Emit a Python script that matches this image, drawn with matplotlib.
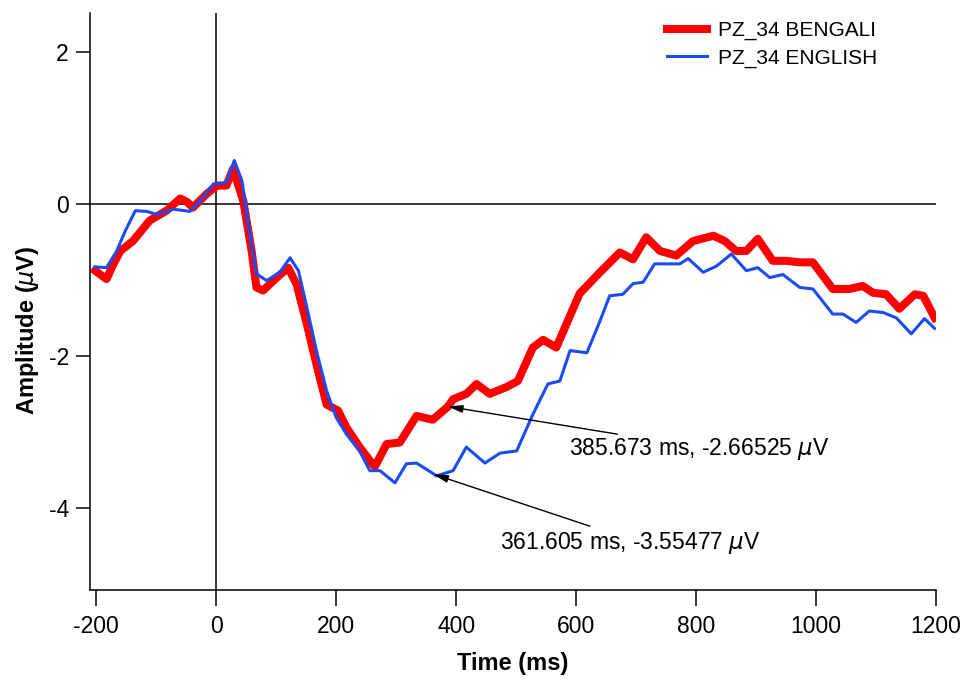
import matplotlib
matplotlib.use("Agg")
import matplotlib.pyplot as plt

plt.rcParams["font.family"] = ["Liberation Sans", "DejaVu Sans"]
plt.rcParams["axes.unicode_minus"] = False

# ERP traces at electrode PZ, subject 34 (ms, microvolts)
t_bengali = [-202, -190, -183, -172, -160, -139, -111, -83, -60, -48, -39, -16, 1, 17, 28,
             45, 59, 67, 78, 101, 120, 134, 151, 167, 184, 203, 217, 239, 261, 265,
             284, 306, 334, 361, 386, 395, 417, 434, 456, 484, 503, 528, 545, 567, 584,
             606, 640, 673, 695, 717, 740, 767, 795, 829, 848, 867, 884, 903, 928, 950,
             973, 995, 1028, 1056, 1078, 1095, 1117, 1139, 1165, 1179, 1198]
v_bengali = [-0.88, -0.95, -0.99, -0.80, -0.62, -0.49, -0.22, -0.09, 0.07, 0.02, -0.05, 0.13, 0.24, 0.24, 0.46,
             0.04, -0.62, -1.10, -1.14, -0.97, -0.84, -1.06, -1.58, -2.11, -2.64, -2.72, -2.94, -3.20, -3.43, -3.45,
             -3.16, -3.14, -2.79, -2.84, -2.67, -2.57, -2.50, -2.37, -2.50, -2.41, -2.33, -1.89, -1.79, -1.89, -1.58,
             -1.18, -0.90, -0.64, -0.73, -0.44, -0.62, -0.68, -0.49, -0.42, -0.49, -0.62, -0.62, -0.46, -0.75, -0.75,
             -0.77, -0.77, -1.12, -1.12, -1.08, -1.17, -1.19, -1.38, -1.19, -1.21, -1.50]

t_english = [-202, -183, -166, -152, -135, -116, -99, -72, -44, -22, -5, 17, 30, 43, 56,
             67, 84, 106, 123, 137, 151, 167, 184, 200, 217, 239, 256, 273, 298, 317,
             334, 362, 367, 395, 417, 448, 473, 501, 528, 553, 573, 590, 618, 640, 656,
             678, 695, 712, 731, 773, 787, 812, 834, 859, 884, 903, 923, 945, 973, 995,
             1028, 1045, 1067, 1089, 1112, 1134, 1159, 1181, 1198]
v_english = [-0.83, -0.84, -0.62, -0.36, -0.09, -0.10, -0.14, -0.07, -0.10, 0.08, 0.26, 0.28, 0.57, 0.30, -0.40,
             -0.92, -1.01, -0.90, -0.71, -0.88, -1.36, -1.93, -2.46, -2.81, -3.03, -3.25, -3.51, -3.51, -3.67, -3.42,
             -3.41, -3.55, -3.58, -3.51, -3.20, -3.41, -3.28, -3.25, -2.77, -2.37, -2.33, -1.93, -1.96, -1.54, -1.21,
             -1.19, -1.05, -1.03, -0.79, -0.79, -0.72, -0.90, -0.82, -0.66, -0.88, -0.84, -0.97, -0.93, -1.10, -1.12,
             -1.45, -1.45, -1.56, -1.41, -1.43, -1.50, -1.71, -1.51, -1.64]

# cursor readouts
peak_bengali = (385.673, -2.66525)
peak_english = (361.605, -3.55477)

x_ticks = [-200, 0, 200, 400, 600, 800, 1000, 1200]
y_ticks = [2, 0, -2, -4]

fig = plt.figure(figsize=(9.67, 6.81), dpi=100)
ax = fig.add_axes([0.0928, 0.1336, 0.875, 0.8473])

ax.axhline(0, color="black", lw=1.1, zorder=1)
ax.axvline(0, color="black", lw=1.1, zorder=1)
ax.plot(t_bengali, v_bengali, color="#ff0000", lw=5.8, label="PZ_34 BENGALI", zorder=2)
ax.plot(t_english, v_english, color="#1a4cf5", lw=2.2, label="PZ_34 ENGLISH", zorder=3)

ax.set_xlim(-211, 1200)
ax.set_ylim(-5.08, 2.51)
ax.set_xticks(x_ticks)
ax.set_yticks(y_ticks)
ax.tick_params(axis="x", direction="out", length=11.5, width=1.1, pad=6.5, labelsize=16.5)
ax.tick_params(axis="y", direction="out", length=10, width=1.1, pad=5, labelsize=16.5)
for s in ("top", "right"):
    ax.spines[s].set_visible(False)
for s in ("left", "bottom"):
    ax.spines[s].set_linewidth(1.1)

ax.set_xlabel("Time (ms)", fontsize=17, fontweight="bold")
ax.set_ylabel("Amplitude ($\\mu$V)", fontsize=17, fontweight="bold")
ax.xaxis.set_label_coords(0.5, -0.108)
ax.yaxis.set_label_coords(-0.058, 0.45)

ax.legend(loc="upper left", bbox_to_anchor=(0.69, 0.969), bbox_transform=fig.transFigure,
          frameon=False, fontsize=15, handlelength=1.9, handletextpad=0.55,
          labelspacing=0.4, borderpad=0, borderaxespad=0)

arrow = dict(arrowstyle="-|>,head_length=0.6,head_width=0.15", color="black", lw=1,
             shrinkA=0, shrinkB=0, mutation_scale=15)
ax.annotate("", xy=peak_bengali, xytext=(669, -3.03), arrowprops=arrow)
ax.annotate("", xy=peak_english, xytext=(623, -4.24), arrowprops=arrow)
ax.text(588, -3.22, f"{peak_bengali[0]} ms, {peak_bengali[1]} $\\mu$V", fontsize=16.5, va="center", ha="left")
ax.text(473, -4.46, f"{peak_english[0]} ms, {peak_english[1]} $\\mu$V", fontsize=16.5, va="center", ha="left")

fig.savefig("out.png", dpi=100)
